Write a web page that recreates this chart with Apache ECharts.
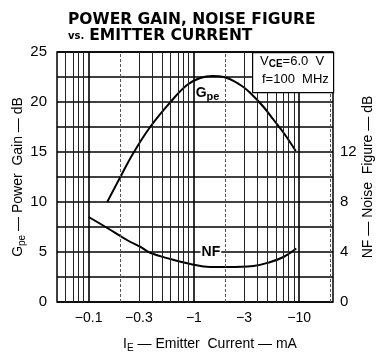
<!DOCTYPE html>
<html><head><meta charset="utf-8">
<script src="https://cdn.jsdelivr.net/npm/echarts@6/dist/echarts.min.js"></script>
<style>html,body{margin:0;padding:0;background:#fff}#c{width:379px;height:356px}</style>
</head><body><div id="c"></div>
<script>
// Emitter current magnitude (mA) and power gain (dB)
const gpeCurrent = [0.15, 0.2, 0.266, 0.384, 0.6, 0.86, 1.15, 1.5, 1.92, 2.77, 3.44, 4.6, 5.74, 7.15, 9.3];
const gpeValues  = [10.0, 12.5, 14.9, 17.5, 20.0, 21.7, 22.4, 22.6, 22.5, 21.7, 20.9, 19.5, 18.2, 16.9, 15.1];
// Emitter current magnitude (mA) and noise figure (dB)
const nfCurrent = [0.1, 0.149, 0.231, 0.309, 0.384, 0.596, 0.924, 1.43, 2.08, 3.68, 5.34, 7.1, 9.4];
const nfValues  = [6.8, 5.94, 4.96, 4.42, 3.94, 3.44, 3.04, 2.8, 2.8, 2.88, 3.2, 3.6, 4.28];
// axis ticks
const xTickLabels = [0.1, 0.3, 1, 3, 10];
const gainTicks = [0, 5, 10, 15, 20, 25];
const nfTicks = [0, 4, 8, 12];
// vertical grid positions (mA)
const gridBold = [0.1, 1, 10];
const gridThin = [0.06, 0.07, 0.08, 0.09, 0.3, 0.4, 0.5, 0.6, 0.7, 0.8, 0.9, 3, 4, 5, 6, 7, 8, 9];
const gridDash = [0.2, 2, 20];

const L = Math.log10;
const font = 'Liberation Sans';
const chart = echarts.init(document.getElementById('c'), null, {renderer: 'canvas'});

const vLines = [].concat(
  gridThin.map(v => ({xAxis: L(v), lineStyle: {color: '#222', width: 1, type: 'solid'}})),
  gridDash.map(v => ({xAxis: L(v), lineStyle: {color: '#555', width: 1, type: [3, 2]}})),
  gridBold.map(v => ({xAxis: L(v), lineStyle: {color: '#000', width: 1.6, type: 'solid'}}))
);

chart.setOption({
  animation: false,
  backgroundColor: '#fff',
  title: {
    left: 68, top: 13, padding: 0,
    text: '{a|POWER GAIN, NOISE FIGURE}\n{b|vs.} {a|EMITTER CURRENT}',
    textStyle: {
      rich: {
        a: {fontFamily: 'DejaVu Sans', fontWeight: 'bold', fontSize: 15.5, color: '#000', lineHeight: 14},
        b: {fontFamily: 'DejaVu Sans', fontWeight: 'bold', fontSize: 10, color: '#000', lineHeight: 14}
      }
    }
  },
  grid: {left: 57, right: 46, top: 52, bottom: 54, outerBoundsMode: 'none', containLabel: false,
    show: true, borderColor: '#000', borderWidth: 1.5, backgroundColor: 'transparent'},
  xAxis: {
    type: 'value', min: L(0.05), max: L(21),
    axisLine: {show: false}, axisTick: {show: false}, splitLine: {show: false},
    axisLabel: {
      customValues: xTickLabels.map(L),
      formatter: v => '\u2212' + (Math.round(Math.pow(10, v) * 10) / 10),
      fontFamily: font, fontSize: 14, color: '#000', margin: 9
    },
    name: '{n|I}{s|E}{n| \u2014 Emitter  Current \u2014 mA}',
    nameLocation: 'middle', nameGap: 33, nameMoveOverlap: false,
    nameTextStyle: {
      padding: [0, 0, 0, 30],
      rich: {
        n: {fontFamily: font, fontSize: 14, color: '#000'},
        s: {fontFamily: font, fontSize: 10, color: '#000', padding: [8, 0, 0, 0]}
      }
    }
  },
  yAxis: [{
    type: 'value', min: 0, max: 25, interval: 2.5,
    axisLine: {show: false}, axisTick: {show: false},
    splitLine: {show: true, lineStyle: {color: '#000', width: 1.5}},
    axisLabel: {
      formatter: v => gainTicks.indexOf(v) >= 0 ? String(v) : '',
      fontFamily: font, fontSize: 15, color: '#000', margin: 10
    },
    name: '{n|G}{s|pe}{n| \u2014 Power  Gain \u2014 dB}',
    nameLocation: 'middle', nameGap: 30, nameRotate: 90, nameMoveOverlap: false,
    nameTextStyle: {
      rich: {
        n: {fontFamily: font, fontSize: 14, color: '#000'},
        s: {fontFamily: font, fontSize: 10, color: '#000', padding: [8, 0, 0, 0]}
      }
    }
  }, {
    type: 'value', min: 0, max: 20, interval: 4,
    axisLine: {show: false}, axisTick: {show: false}, splitLine: {show: false},
    axisLabel: {
      formatter: v => nfTicks.indexOf(v) >= 0 ? String(v) : '',
      fontFamily: font, fontSize: 15, color: '#000', margin: 7
    },
    name: 'NF \u2014 Noise  Figure \u2014 dB',
    nameLocation: 'middle', nameGap: 28, nameRotate: 90, nameMoveOverlap: false,
    nameTextStyle: {fontFamily: font, fontSize: 14, color: '#000'}
  }],
  series: [{
    type: 'line', name: 'Gpe', yAxisIndex: 0, smooth: 0.4, symbol: 'none',
    lineStyle: {color: '#000', width: 2},
    data: gpeCurrent.map((c, i) => [L(c), gpeValues[i]]),
    markLine: {silent: true, symbol: 'none', label: {show: false}, animation: false, data: vLines},
    markPoint: {
      symbol: 'circle', symbolSize: 0,
      data: [{coord: [L(1.35), 20.9]}],
      label: {show: true, position: 'inside', formatter: '{n|G}{s|pe}',
        rich: {
          n: {fontFamily: font, fontSize: 14, fontWeight: 'bold', color: '#000'},
          s: {fontFamily: font, fontSize: 11, fontWeight: 'bold', color: '#000', padding: [7, 0, 0, 0]}
        }}
    }
  }, {
    type: 'line', name: 'NF', yAxisIndex: 1, smooth: 0.4, symbol: 'none',
    lineStyle: {color: '#000', width: 2},
    data: nfCurrent.map((c, i) => [L(c), nfValues[i]]),
    markPoint: {
      symbol: 'circle', symbolSize: 0,
      data: [{coord: [L(1.45), 3.95]}],
      label: {show: true, position: 'inside', formatter: 'NF',
        fontFamily: font, fontSize: 14, fontWeight: 'bold', color: '#000', backgroundColor: '#fff', padding: [0, 1]}
    }
  }],
  graphic: [
    {type: 'rect', left: 252, top: 52, z: 100, zlevel: 1,
      shape: {x: 0, y: 0, width: 81, height: 40}, style: {fill: '#fff', stroke: '#000', lineWidth: 1.2}},
    {type: 'text', left: 260, top: 55, z: 101, zlevel: 1, style: {
      text: '{n|V}{s|CE}{n|=6.0  V}',
      rich: {
        n: {fontFamily: font, fontSize: 13, fill: '#000'},
        s: {fontFamily: font, fontSize: 10, fontWeight: 'bold', fill: '#000', padding: [5, 0, 0, 0]}
      }}},
    {type: 'text', left: 262, top: 73, z: 101, zlevel: 1, style: {text: 'f=100  MHz',
      fontFamily: font, fontSize: 13, fill: '#000'}}
  ]
});
</script></body></html>
